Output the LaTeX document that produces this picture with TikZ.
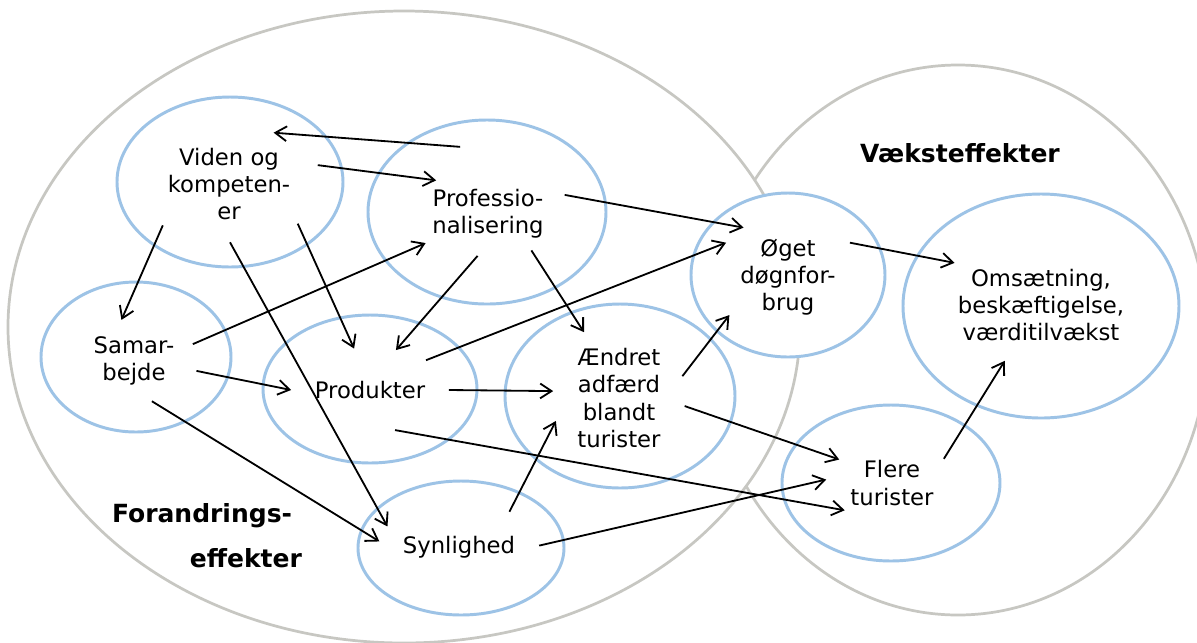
\documentclass[tikz,border=0pt]{standalone}
\usepackage{fontspec}
\setmainfont{DejaVu Sans}
\usetikzlibrary{arrows.meta,shapes.geometric}
\definecolor{ringblue}{RGB}{157,195,230}
\definecolor{ringgray}{RGB}{199,199,194}
\tikzset{
  zone/.style={draw=ringgray, line width=1.2pt, fill=white},
  ring/.style={draw=ringblue, line width=1.3pt, fill=white},
  txt/.style={ellipse, inner sep=2pt, align=center, font=\fontsize{10}{12}\selectfont},
  flat/.style={txt, inner xsep=0pt, inner ysep=9pt},
  title/.style={align=right, font=\bfseries\fontsize{11}{19.8}\selectfont}
}
\begin{document}
\begin{tikzpicture}[x=0.44pt, y=-0.44pt, >={Straight Barb[length=5pt,width=6.5pt]}, line width=0.8pt]
\useasboundingbox (0,0) rectangle (1197,642);
\draw[zone] (958,340) ellipse (250 and 275);
\draw[zone] (404,327) ellipse (396 and 316);
\draw[ring] (230,182) ellipse (113 and 85);
\draw[ring] (487,212) ellipse (119 and 92);
\draw[ring] (136,357) ellipse (95 and 75);
\draw[ring] (370,389) ellipse (107 and 74);
\draw[ring] (620,396) ellipse (115 and 92);
\draw[ring] (788,275) ellipse (97 and 82);
\draw[ring] (1041,306) ellipse (138 and 112);
\draw[ring] (891,483) ellipse (109 and 78);
\draw[ring] (461,548) ellipse (103 and 67);
\node[title] (forandr) at (202,536) {Forandrings-\\effekter\hspace*{-4.4pt}};
\node[title] (vaekst) at (960,153) {Væksteffekter};
\node[txt] (viden) at (229,184) {Viden og\\kompeten-\\er};
\node[txt] (prof) at (488,214) {Professio-\\nalisering};
\node[txt] (sam) at (134,361) {Samar-\\bejde};
\node[flat] (prod) at (370,390) {Produkter};
\node[txt] (aendret) at (619,398) {Ændret\\adfærd\\blandt\\turister};
\node[txt] (oget) at (788,277) {Øget\\døgnfor-\\brug};
\node[txt] (oms) at (1041,305) {Omsætning,\\beskæftigelse,\\værditilvækst};
\node[txt] (flere) at (892,483) {Flere\\turister};
\node[flat] (syn) at (459,547) {Synlighed};
\draw[->] ([yshift=12pt]prof.125) -- (viden.49);
\draw[->] (viden.12) -- (prof.147);
\draw[->] (viden.-148) -- (sam.107);
\draw[->] (viden.-30) -- (prod.111);
\draw[->] (viden.-89) -- (syn.164);
\draw[->] (sam.16) -- (prof.-155);
\draw[->] (sam.-9) -- (prod.180);
\draw[->] (sam.-66) -- (syn.176);
\draw[->] (prof.-104) -- (prod.57);
\draw[->] (prof.-40) -- (aendret.118);
\draw[->] (prof.14) -- (oget.132);
\draw[->] (prod.28) -- (oget.151);
\draw[->] (prod.0) -- (aendret.174);
\draw[->] (prod.-58) -- (flere.-150);
\draw[->] (aendret.19) -- (oget.-147);
\draw[->] (aendret.-7) -- (flere.156);
\draw[->] (syn.35) -- (aendret.-160);
\draw[->] (syn.1) -- (flere.177);
\draw[->] (oget.29) -- (oms.154);
\draw[->] (flere.25) -- (oms.-123);
\end{tikzpicture}
\end{document}
